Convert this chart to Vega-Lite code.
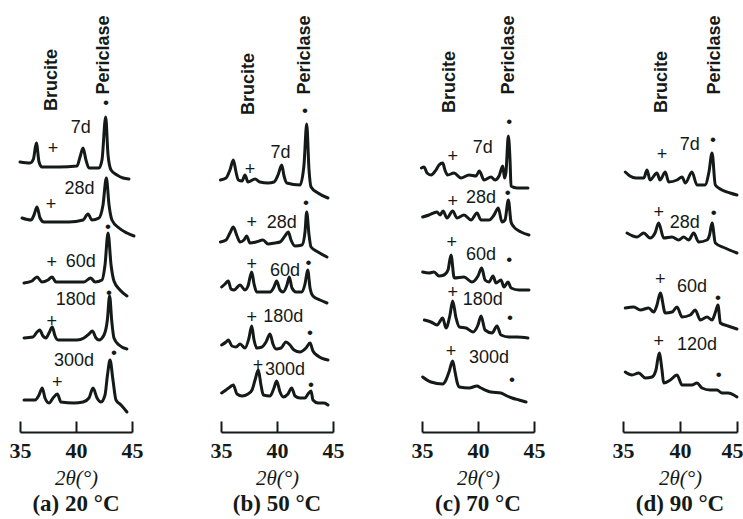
{
  "$schema": "https://vega.github.io/schema/vega-lite/v6.json",
  "padding": {"left": 9, "top": 5, "right": 0, "bottom": 0},
  "background": "white",
  "spacing": 89,
  "bounds": "flush",
  "datasets": {
    "traces": [
      {"p":"a","age":"7d","t":35.0,"i":270},{"p":"a","age":"7d","t":35.9,"i":269},{"p":"a","age":"7d","t":36.2,"i":273},{"p":"a","age":"7d","t":36.46,"i":289},{"p":"a","age":"7d","t":36.7,"i":270},{"p":"a","age":"7d","t":36.96,"i":265},{"p":"a","age":"7d","t":38.48,"i":265},{"p":"a","age":"7d","t":40.09,"i":266},{"p":"a","age":"7d","t":40.36,"i":275},{"p":"a","age":"7d","t":40.63,"i":284},{"p":"a","age":"7d","t":40.89,"i":272},{"p":"a","age":"7d","t":41.16,"i":264},{"p":"a","age":"7d","t":42.05,"i":264},{"p":"a","age":"7d","t":42.32,"i":272},{"p":"a","age":"7d","t":42.65,"i":315},{"p":"a","age":"7d","t":42.86,"i":277},{"p":"a","age":"7d","t":43.13,"i":262},{"p":"a","age":"7d","t":43.66,"i":257},{"p":"a","age":"7d","t":44.2,"i":254},{"p":"a","age":"7d","t":44.73,"i":253},
      {"p":"a","age":"28d","t":35.18,"i":214},{"p":"a","age":"28d","t":35.98,"i":212},{"p":"a","age":"28d","t":36.25,"i":217},{"p":"a","age":"28d","t":36.52,"i":225},{"p":"a","age":"28d","t":36.79,"i":214},{"p":"a","age":"28d","t":37.14,"i":210},{"p":"a","age":"28d","t":39.38,"i":210},{"p":"a","age":"28d","t":40.63,"i":212},{"p":"a","age":"28d","t":41.07,"i":218},{"p":"a","age":"28d","t":41.43,"i":212},{"p":"a","age":"28d","t":42.05,"i":214},{"p":"a","age":"28d","t":42.41,"i":227},{"p":"a","age":"28d","t":42.71,"i":254},{"p":"a","age":"28d","t":42.95,"i":227},{"p":"a","age":"28d","t":43.21,"i":212},{"p":"a","age":"28d","t":43.84,"i":204},{"p":"a","age":"28d","t":44.55,"i":199},{"p":"a","age":"28d","t":45.18,"i":196},
      {"p":"a","age":"60d","t":35.36,"i":149},{"p":"a","age":"60d","t":36.07,"i":151},{"p":"a","age":"60d","t":36.52,"i":155},{"p":"a","age":"60d","t":36.96,"i":150},{"p":"a","age":"60d","t":37.5,"i":152},{"p":"a","age":"60d","t":37.86,"i":155},{"p":"a","age":"60d","t":38.21,"i":150},{"p":"a","age":"60d","t":40.71,"i":150},{"p":"a","age":"60d","t":41.31,"i":154},{"p":"a","age":"60d","t":41.7,"i":150},{"p":"a","age":"60d","t":42.32,"i":152},{"p":"a","age":"60d","t":42.59,"i":167},{"p":"a","age":"60d","t":42.86,"i":199},{"p":"a","age":"60d","t":43.13,"i":167},{"p":"a","age":"60d","t":43.39,"i":151},{"p":"a","age":"60d","t":43.93,"i":142},{"p":"a","age":"60d","t":44.55,"i":136},
      {"p":"a","age":"180d","t":35.36,"i":94},{"p":"a","age":"180d","t":36.16,"i":95},{"p":"a","age":"180d","t":36.52,"i":100},{"p":"a","age":"180d","t":36.76,"i":102},{"p":"a","age":"180d","t":37.05,"i":96},{"p":"a","age":"180d","t":37.32,"i":94},{"p":"a","age":"180d","t":37.59,"i":99},{"p":"a","age":"180d","t":37.88,"i":105},{"p":"a","age":"180d","t":38.13,"i":96},{"p":"a","age":"180d","t":38.39,"i":92},{"p":"a","age":"180d","t":40.09,"i":92},{"p":"a","age":"180d","t":40.71,"i":94},{"p":"a","age":"180d","t":41.16,"i":98},{"p":"a","age":"180d","t":41.46,"i":101},{"p":"a","age":"180d","t":41.79,"i":94},{"p":"a","age":"180d","t":42.05,"i":92},{"p":"a","age":"180d","t":42.5,"i":97},{"p":"a","age":"180d","t":42.8,"i":112},{"p":"a","age":"180d","t":43.0,"i":136},{"p":"a","age":"180d","t":43.2,"i":110},{"p":"a","age":"180d","t":43.39,"i":94},{"p":"a","age":"180d","t":43.84,"i":87},{"p":"a","age":"180d","t":44.55,"i":83},
      {"p":"a","age":"300d","t":35.36,"i":32},{"p":"a","age":"300d","t":36.34,"i":32},{"p":"a","age":"300d","t":36.7,"i":37},{"p":"a","age":"300d","t":36.99,"i":44},{"p":"a","age":"300d","t":37.23,"i":34},{"p":"a","age":"300d","t":37.59,"i":29},{"p":"a","age":"300d","t":37.95,"i":34},{"p":"a","age":"300d","t":38.33,"i":38},{"p":"a","age":"300d","t":38.66,"i":30},{"p":"a","age":"300d","t":39.82,"i":29},{"p":"a","age":"300d","t":40.63,"i":30},{"p":"a","age":"300d","t":41.16,"i":34},{"p":"a","age":"300d","t":41.52,"i":44},{"p":"a","age":"300d","t":41.88,"i":34},{"p":"a","age":"300d","t":42.23,"i":30},{"p":"a","age":"300d","t":42.59,"i":37},{"p":"a","age":"300d","t":42.81,"i":57},{"p":"a","age":"300d","t":43.04,"i":72},{"p":"a","age":"300d","t":43.3,"i":52},{"p":"a","age":"300d","t":43.57,"i":32},{"p":"a","age":"300d","t":44.02,"i":27},{"p":"a","age":"300d","t":44.55,"i":20},

      {"p":"b","age":"7d","t":34.95,"i":252},{"p":"b","age":"7d","t":35.45,"i":254},{"p":"b","age":"7d","t":35.8,"i":262},{"p":"b","age":"7d","t":36.1,"i":272},{"p":"b","age":"7d","t":36.34,"i":260},{"p":"b","age":"7d","t":36.54,"i":252},{"p":"b","age":"7d","t":36.88,"i":251},{"p":"b","age":"7d","t":37.14,"i":257},{"p":"b","age":"7d","t":37.41,"i":250},{"p":"b","age":"7d","t":38.04,"i":253},{"p":"b","age":"7d","t":38.48,"i":250},{"p":"b","age":"7d","t":39.2,"i":249},{"p":"b","age":"7d","t":39.73,"i":250},{"p":"b","age":"7d","t":40.09,"i":257},{"p":"b","age":"7d","t":40.42,"i":267},{"p":"b","age":"7d","t":40.63,"i":256},{"p":"b","age":"7d","t":40.87,"i":249},{"p":"b","age":"7d","t":42.05,"i":247},{"p":"b","age":"7d","t":42.41,"i":267},{"p":"b","age":"7d","t":42.65,"i":308},{"p":"b","age":"7d","t":42.86,"i":262},{"p":"b","age":"7d","t":43.04,"i":245},{"p":"b","age":"7d","t":43.66,"i":239},{"p":"b","age":"7d","t":44.55,"i":234},
      {"p":"b","age":"28d","t":34.95,"i":190},{"p":"b","age":"28d","t":35.45,"i":192},{"p":"b","age":"28d","t":35.8,"i":199},{"p":"b","age":"28d","t":36.1,"i":205},{"p":"b","age":"28d","t":36.43,"i":196},{"p":"b","age":"28d","t":36.7,"i":190},{"p":"b","age":"28d","t":37.05,"i":192},{"p":"b","age":"28d","t":37.29,"i":196},{"p":"b","age":"28d","t":37.59,"i":189},{"p":"b","age":"28d","t":38.13,"i":190},{"p":"b","age":"28d","t":38.75,"i":192},{"p":"b","age":"28d","t":39.2,"i":188},{"p":"b","age":"28d","t":39.82,"i":189},{"p":"b","age":"28d","t":40.27,"i":190},{"p":"b","age":"28d","t":40.71,"i":196},{"p":"b","age":"28d","t":41.01,"i":200},{"p":"b","age":"28d","t":41.25,"i":192},{"p":"b","age":"28d","t":41.61,"i":186},{"p":"b","age":"28d","t":42.23,"i":187},{"p":"b","age":"28d","t":42.5,"i":200},{"p":"b","age":"28d","t":42.65,"i":220},{"p":"b","age":"28d","t":42.86,"i":197},{"p":"b","age":"28d","t":43.04,"i":185},{"p":"b","age":"28d","t":43.66,"i":180},{"p":"b","age":"28d","t":44.46,"i":175},
      {"p":"b","age":"60d","t":35.06,"i":145},{"p":"b","age":"60d","t":35.36,"i":148},{"p":"b","age":"60d","t":35.65,"i":151},{"p":"b","age":"60d","t":35.89,"i":143},{"p":"b","age":"60d","t":36.16,"i":142},{"p":"b","age":"60d","t":36.7,"i":147},{"p":"b","age":"60d","t":37.14,"i":142},{"p":"b","age":"60d","t":37.41,"i":146},{"p":"b","age":"60d","t":37.74,"i":160},{"p":"b","age":"60d","t":37.95,"i":148},{"p":"b","age":"60d","t":38.19,"i":140},{"p":"b","age":"60d","t":39.38,"i":140},{"p":"b","age":"60d","t":39.73,"i":145},{"p":"b","age":"60d","t":39.97,"i":151},{"p":"b","age":"60d","t":40.27,"i":142},{"p":"b","age":"60d","t":40.54,"i":140},{"p":"b","age":"60d","t":40.89,"i":147},{"p":"b","age":"60d","t":41.1,"i":155},{"p":"b","age":"60d","t":41.34,"i":144},{"p":"b","age":"60d","t":41.7,"i":140},{"p":"b","age":"60d","t":42.23,"i":140},{"p":"b","age":"60d","t":42.5,"i":148},{"p":"b","age":"60d","t":42.74,"i":162},{"p":"b","age":"60d","t":42.95,"i":144},{"p":"b","age":"60d","t":43.21,"i":136},{"p":"b","age":"60d","t":43.84,"i":132},{"p":"b","age":"60d","t":44.46,"i":129},
      {"p":"b","age":"180d","t":35.06,"i":87},{"p":"b","age":"180d","t":35.45,"i":90},{"p":"b","age":"180d","t":35.65,"i":92},{"p":"b","age":"180d","t":35.98,"i":86},{"p":"b","age":"180d","t":36.34,"i":85},{"p":"b","age":"180d","t":36.7,"i":88},{"p":"b","age":"180d","t":37.14,"i":84},{"p":"b","age":"180d","t":37.5,"i":94},{"p":"b","age":"180d","t":37.74,"i":106},{"p":"b","age":"180d","t":37.95,"i":92},{"p":"b","age":"180d","t":38.19,"i":84},{"p":"b","age":"180d","t":38.66,"i":85},{"p":"b","age":"180d","t":39.02,"i":90},{"p":"b","age":"180d","t":39.38,"i":98},{"p":"b","age":"180d","t":39.64,"i":88},{"p":"b","age":"180d","t":39.91,"i":83},{"p":"b","age":"180d","t":40.36,"i":84},{"p":"b","age":"180d","t":40.8,"i":90},{"p":"b","age":"180d","t":41.16,"i":87},{"p":"b","age":"180d","t":41.52,"i":82},{"p":"b","age":"180d","t":42.05,"i":80},{"p":"b","age":"180d","t":42.59,"i":84},{"p":"b","age":"180d","t":42.95,"i":89},{"p":"b","age":"180d","t":43.21,"i":81},{"p":"b","age":"180d","t":43.66,"i":76},{"p":"b","age":"180d","t":44.55,"i":72},
      {"p":"b","age":"300d","t":35.06,"i":39},{"p":"b","age":"300d","t":35.45,"i":42},{"p":"b","age":"300d","t":35.8,"i":45},{"p":"b","age":"300d","t":36.1,"i":47},{"p":"b","age":"300d","t":36.43,"i":38},{"p":"b","age":"300d","t":36.88,"i":36},{"p":"b","age":"300d","t":37.41,"i":38},{"p":"b","age":"300d","t":37.77,"i":42},{"p":"b","age":"300d","t":38.04,"i":52},{"p":"b","age":"300d","t":38.33,"i":62},{"p":"b","age":"300d","t":38.57,"i":47},{"p":"b","age":"300d","t":38.78,"i":37},{"p":"b","age":"300d","t":39.38,"i":36},{"p":"b","age":"300d","t":39.73,"i":44},{"p":"b","age":"300d","t":39.97,"i":51},{"p":"b","age":"300d","t":40.27,"i":40},{"p":"b","age":"300d","t":40.56,"i":35},{"p":"b","age":"300d","t":40.98,"i":38},{"p":"b","age":"300d","t":41.31,"i":44},{"p":"b","age":"300d","t":41.61,"i":36},{"p":"b","age":"300d","t":42.05,"i":34},{"p":"b","age":"300d","t":42.5,"i":34},{"p":"b","age":"300d","t":42.77,"i":38},{"p":"b","age":"300d","t":43.04,"i":41},{"p":"b","age":"300d","t":43.21,"i":32},{"p":"b","age":"300d","t":43.66,"i":29},{"p":"b","age":"300d","t":44.2,"i":29},{"p":"b","age":"300d","t":44.55,"i":27},

      {"p":"c","age":"7d","t":34.95,"i":264},{"p":"c","age":"7d","t":35.18,"i":265},{"p":"c","age":"7d","t":35.45,"i":259},{"p":"c","age":"7d","t":35.8,"i":257},{"p":"c","age":"7d","t":36.25,"i":262},{"p":"c","age":"7d","t":36.52,"i":267},{"p":"c","age":"7d","t":36.85,"i":269},{"p":"c","age":"7d","t":37.05,"i":262},{"p":"c","age":"7d","t":37.29,"i":257},{"p":"c","age":"7d","t":37.86,"i":259},{"p":"c","age":"7d","t":38.48,"i":254},{"p":"c","age":"7d","t":39.2,"i":257},{"p":"c","age":"7d","t":39.82,"i":256},{"p":"c","age":"7d","t":40.12,"i":261},{"p":"c","age":"7d","t":40.54,"i":252},{"p":"c","age":"7d","t":41.16,"i":255},{"p":"c","age":"7d","t":41.52,"i":252},{"p":"c","age":"7d","t":41.88,"i":256},{"p":"c","age":"7d","t":42.21,"i":266},{"p":"c","age":"7d","t":42.37,"i":254},{"p":"c","age":"7d","t":42.5,"i":260},{"p":"c","age":"7d","t":42.71,"i":296},{"p":"c","age":"7d","t":42.86,"i":272},{"p":"c","age":"7d","t":42.95,"i":246},{"p":"c","age":"7d","t":43.48,"i":244},{"p":"c","age":"7d","t":44.46,"i":244},
      {"p":"c","age":"28d","t":35.06,"i":215},{"p":"c","age":"28d","t":35.63,"i":217},{"p":"c","age":"28d","t":36.34,"i":220},{"p":"c","age":"28d","t":36.61,"i":217},{"p":"c","age":"28d","t":36.88,"i":221},{"p":"c","age":"28d","t":37.23,"i":214},{"p":"c","age":"28d","t":37.74,"i":221},{"p":"c","age":"28d","t":38.13,"i":214},{"p":"c","age":"28d","t":38.75,"i":217},{"p":"c","age":"28d","t":39.38,"i":212},{"p":"c","age":"28d","t":39.91,"i":219},{"p":"c","age":"28d","t":40.27,"i":212},{"p":"c","age":"28d","t":40.98,"i":212},{"p":"c","age":"28d","t":41.43,"i":217},{"p":"c","age":"28d","t":41.81,"i":224},{"p":"c","age":"28d","t":42.14,"i":210},{"p":"c","age":"28d","t":42.41,"i":212},{"p":"c","age":"28d","t":42.71,"i":232},{"p":"c","age":"28d","t":42.95,"i":210},{"p":"c","age":"28d","t":43.21,"i":205},{"p":"c","age":"28d","t":43.84,"i":200},{"p":"c","age":"28d","t":44.55,"i":197},
      {"p":"c","age":"60d","t":35.06,"i":160},{"p":"c","age":"60d","t":35.63,"i":159},{"p":"c","age":"60d","t":36.07,"i":160},{"p":"c","age":"60d","t":36.52,"i":156},{"p":"c","age":"60d","t":36.96,"i":157},{"p":"c","age":"60d","t":37.32,"i":162},{"p":"c","age":"60d","t":37.59,"i":177},{"p":"c","age":"60d","t":37.88,"i":154},{"p":"c","age":"60d","t":38.75,"i":155},{"p":"c","age":"60d","t":39.46,"i":150},{"p":"c","age":"60d","t":40.0,"i":156},{"p":"c","age":"60d","t":40.33,"i":164},{"p":"c","age":"60d","t":40.63,"i":152},{"p":"c","age":"60d","t":40.98,"i":150},{"p":"c","age":"60d","t":41.34,"i":156},{"p":"c","age":"60d","t":41.61,"i":149},{"p":"c","age":"60d","t":42.05,"i":152},{"p":"c","age":"60d","t":42.32,"i":145},{"p":"c","age":"60d","t":42.68,"i":150},{"p":"c","age":"60d","t":42.95,"i":144},{"p":"c","age":"60d","t":43.66,"i":142},{"p":"c","age":"60d","t":44.55,"i":142},
      {"p":"c","age":"180d","t":35.21,"i":112},{"p":"c","age":"180d","t":35.8,"i":110},{"p":"c","age":"180d","t":36.34,"i":107},{"p":"c","age":"180d","t":36.85,"i":114},{"p":"c","age":"180d","t":37.14,"i":104},{"p":"c","age":"180d","t":37.5,"i":117},{"p":"c","age":"180d","t":37.74,"i":131},{"p":"c","age":"180d","t":38.04,"i":114},{"p":"c","age":"180d","t":38.33,"i":105},{"p":"c","age":"180d","t":38.93,"i":104},{"p":"c","age":"180d","t":39.55,"i":100},{"p":"c","age":"180d","t":40.0,"i":107},{"p":"c","age":"180d","t":40.27,"i":116},{"p":"c","age":"180d","t":40.63,"i":102},{"p":"c","age":"180d","t":41.25,"i":99},{"p":"c","age":"180d","t":41.7,"i":106},{"p":"c","age":"180d","t":42.05,"i":97},{"p":"c","age":"180d","t":42.77,"i":95},{"p":"c","age":"180d","t":43.48,"i":95},{"p":"c","age":"180d","t":44.46,"i":94},
      {"p":"c","age":"300d","t":35.06,"i":55},{"p":"c","age":"300d","t":35.8,"i":50},{"p":"c","age":"300d","t":36.85,"i":48},{"p":"c","age":"300d","t":37.14,"i":52},{"p":"c","age":"300d","t":37.41,"i":60},{"p":"c","age":"300d","t":37.74,"i":71},{"p":"c","age":"300d","t":37.95,"i":60},{"p":"c","age":"300d","t":38.13,"i":50},{"p":"c","age":"300d","t":38.33,"i":45},{"p":"c","age":"300d","t":39.2,"i":44},{"p":"c","age":"300d","t":39.91,"i":46},{"p":"c","age":"300d","t":40.27,"i":44},{"p":"c","age":"300d","t":41.16,"i":40},{"p":"c","age":"300d","t":42.05,"i":39},{"p":"c","age":"300d","t":42.59,"i":36},{"p":"c","age":"300d","t":43.04,"i":34},{"p":"c","age":"300d","t":43.66,"i":32},{"p":"c","age":"300d","t":44.29,"i":30},

      {"p":"d","age":"7d","t":35.2,"i":260},{"p":"d","age":"7d","t":35.61,"i":256},{"p":"d","age":"7d","t":36.14,"i":254},{"p":"d","age":"7d","t":36.82,"i":254},{"p":"d","age":"7d","t":37.11,"i":262},{"p":"d","age":"7d","t":37.37,"i":252},{"p":"d","age":"7d","t":37.98,"i":259},{"p":"d","age":"7d","t":38.25,"i":252},{"p":"d","age":"7d","t":38.71,"i":260},{"p":"d","age":"7d","t":39.01,"i":250},{"p":"d","age":"7d","t":39.74,"i":252},{"p":"d","age":"7d","t":40.18,"i":255},{"p":"d","age":"7d","t":40.47,"i":249},{"p":"d","age":"7d","t":41.05,"i":260},{"p":"d","age":"7d","t":41.49,"i":247},{"p":"d","age":"7d","t":42.19,"i":247},{"p":"d","age":"7d","t":42.54,"i":260},{"p":"d","age":"7d","t":42.81,"i":279},{"p":"d","age":"7d","t":43.1,"i":247},{"p":"d","age":"7d","t":43.68,"i":242},{"p":"d","age":"7d","t":44.39,"i":239},{"p":"d","age":"7d","t":45.0,"i":237},
      {"p":"d","age":"28d","t":35.35,"i":199},{"p":"d","age":"28d","t":36.23,"i":195},{"p":"d","age":"28d","t":36.82,"i":199},{"p":"d","age":"28d","t":37.37,"i":194},{"p":"d","age":"28d","t":37.81,"i":199},{"p":"d","age":"28d","t":38.13,"i":209},{"p":"d","age":"28d","t":38.57,"i":194},{"p":"d","age":"28d","t":39.3,"i":195},{"p":"d","age":"28d","t":39.89,"i":192},{"p":"d","age":"28d","t":40.32,"i":195},{"p":"d","age":"28d","t":40.76,"i":192},{"p":"d","age":"28d","t":41.2,"i":199},{"p":"d","age":"28d","t":41.64,"i":190},{"p":"d","age":"28d","t":42.37,"i":192},{"p":"d","age":"28d","t":42.59,"i":197},{"p":"d","age":"28d","t":42.81,"i":209},{"p":"d","age":"28d","t":43.1,"i":189},{"p":"d","age":"28d","t":43.95,"i":184},{"p":"d","age":"28d","t":45.0,"i":179},
      {"p":"d","age":"60d","t":35.2,"i":124},{"p":"d","age":"60d","t":35.94,"i":125},{"p":"d","age":"60d","t":36.52,"i":122},{"p":"d","age":"60d","t":37.25,"i":124},{"p":"d","age":"60d","t":37.69,"i":120},{"p":"d","age":"60d","t":37.98,"i":127},{"p":"d","age":"60d","t":38.27,"i":139},{"p":"d","age":"60d","t":38.71,"i":119},{"p":"d","age":"60d","t":39.3,"i":120},{"p":"d","age":"60d","t":39.74,"i":125},{"p":"d","age":"60d","t":40.18,"i":115},{"p":"d","age":"60d","t":40.9,"i":117},{"p":"d","age":"60d","t":41.34,"i":122},{"p":"d","age":"60d","t":41.78,"i":112},{"p":"d","age":"60d","t":42.37,"i":115},{"p":"d","age":"60d","t":42.81,"i":112},{"p":"d","age":"60d","t":43.11,"i":120},{"p":"d","age":"60d","t":43.33,"i":127},{"p":"d","age":"60d","t":43.54,"i":109},{"p":"d","age":"60d","t":44.21,"i":106},{"p":"d","age":"60d","t":45.0,"i":103},
      {"p":"d","age":"120d","t":35.2,"i":60},{"p":"d","age":"120d","t":35.79,"i":57},{"p":"d","age":"120d","t":36.38,"i":59},{"p":"d","age":"120d","t":36.96,"i":54},{"p":"d","age":"120d","t":37.54,"i":55},{"p":"d","age":"120d","t":37.89,"i":62},{"p":"d","age":"120d","t":38.18,"i":79},{"p":"d","age":"120d","t":38.42,"i":62},{"p":"d","age":"120d","t":38.57,"i":49},{"p":"d","age":"120d","t":39.15,"i":52},{"p":"d","age":"120d","t":39.74,"i":57},{"p":"d","age":"120d","t":40.18,"i":47},{"p":"d","age":"120d","t":41.05,"i":47},{"p":"d","age":"120d","t":41.49,"i":49},{"p":"d","age":"120d","t":41.93,"i":44},{"p":"d","age":"120d","t":42.63,"i":42},{"p":"d","age":"120d","t":43.25,"i":42},{"p":"d","age":"120d","t":43.68,"i":39},{"p":"d","age":"120d","t":44.21,"i":39},{"p":"d","age":"120d","t":45.0,"i":35}
    ],
    "labels": [
      {"p":"a","kind":"phase","text":"Brucite","t":37.9,"i":352},{"p":"a","kind":"phase","text":"Periclase","t":42.5,"i":377},
      {"p":"a","kind":"age","text":"7d","t":40.42,"i":304},{"p":"a","kind":"age","text":"28d","t":40.31,"i":243},{"p":"a","kind":"age","text":"60d","t":40.42,"i":170},{"p":"a","kind":"age","text":"180d","t":39.97,"i":132},{"p":"a","kind":"age","text":"300d","t":39.82,"i":71},
      {"p":"a","kind":"brucite","text":"+","t":37.95,"i":283},{"p":"a","kind":"brucite","text":"+","t":37.77,"i":227},{"p":"a","kind":"brucite","text":"+","t":37.83,"i":169},{"p":"a","kind":"brucite","text":"+","t":37.83,"i":110},{"p":"a","kind":"brucite","text":"+","t":38.33,"i":49},
      {"p":"a","kind":"periclase","text":"•","t":42.68,"i":329},{"p":"a","kind":"periclase","text":"•","t":42.86,"i":205},{"p":"a","kind":"periclase","text":"•","t":42.95,"i":139},{"p":"a","kind":"periclase","text":"•","t":43.39,"i":79},

      {"p":"b","kind":"phase","text":"Brucite","t":37.54,"i":348},{"p":"b","kind":"phase","text":"Periclase","t":42.46,"i":377},
      {"p":"b","kind":"age","text":"7d","t":40.31,"i":279},{"p":"b","kind":"age","text":"28d","t":40.42,"i":209},{"p":"b","kind":"age","text":"60d","t":40.71,"i":161},{"p":"b","kind":"age","text":"180d","t":40.56,"i":115},{"p":"b","kind":"age","text":"300d","t":40.71,"i":62},
      {"p":"b","kind":"brucite","text":"+","t":37.59,"i":262},{"p":"b","kind":"brucite","text":"+","t":37.74,"i":209},{"p":"b","kind":"brucite","text":"+","t":37.74,"i":167},{"p":"b","kind":"brucite","text":"+","t":37.74,"i":114},{"p":"b","kind":"brucite","text":"+","t":38.3,"i":66},
      {"p":"b","kind":"periclase","text":"•","t":42.5,"i":321},{"p":"b","kind":"periclase","text":"•","t":42.59,"i":229},{"p":"b","kind":"periclase","text":"•","t":42.8,"i":169},{"p":"b","kind":"periclase","text":"•","t":42.95,"i":99},{"p":"b","kind":"periclase","text":"•","t":43.04,"i":47},

      {"p":"c","kind":"phase","text":"Brucite","t":37.54,"i":350},{"p":"c","kind":"phase","text":"Periclase","t":42.81,"i":377},
      {"p":"c","kind":"age","text":"7d","t":40.42,"i":284},{"p":"c","kind":"age","text":"28d","t":40.27,"i":234},{"p":"c","kind":"age","text":"60d","t":40.27,"i":177},{"p":"c","kind":"age","text":"180d","t":40.42,"i":132},{"p":"c","kind":"age","text":"300d","t":40.98,"i":74},
      {"p":"c","kind":"brucite","text":"+","t":37.74,"i":275},{"p":"c","kind":"brucite","text":"+","t":37.74,"i":230},{"p":"c","kind":"brucite","text":"+","t":37.65,"i":189},{"p":"c","kind":"brucite","text":"+","t":37.74,"i":139},{"p":"c","kind":"brucite","text":"+","t":37.59,"i":80},
      {"p":"c","kind":"periclase","text":"•","t":42.79,"i":310},{"p":"c","kind":"periclase","text":"•","t":42.65,"i":239},{"p":"c","kind":"periclase","text":"•","t":42.79,"i":172},{"p":"c","kind":"periclase","text":"•","t":42.86,"i":114},{"p":"c","kind":"periclase","text":"•","t":43.04,"i":52},

      {"p":"d","kind":"phase","text":"Brucite","t":38.46,"i":350},{"p":"d","kind":"phase","text":"Periclase","t":43.03,"i":377},
      {"p":"d","kind":"age","text":"7d","t":40.85,"i":287},{"p":"d","kind":"age","text":"28d","t":40.41,"i":209},{"p":"d","kind":"age","text":"60d","t":41.05,"i":145},{"p":"d","kind":"age","text":"120d","t":41.49,"i":87},
      {"p":"d","kind":"brucite","text":"+","t":38.42,"i":277},{"p":"d","kind":"brucite","text":"+","t":38.13,"i":219},{"p":"d","kind":"brucite","text":"+","t":38.27,"i":152},{"p":"d","kind":"brucite","text":"+","t":38.13,"i":90},
      {"p":"d","kind":"periclase","text":"•","t":42.89,"i":292},{"p":"d","kind":"periclase","text":"•","t":42.96,"i":219},{"p":"d","kind":"periclase","text":"•","t":43.33,"i":134},{"p":"d","kind":"periclase","text":"•","t":43.39,"i":57}
    ]
  },
  "hconcat": [
    {
      "width": 112, "height": 427,
      "title": "(a) 20 °C",
      "encoding": {
        "x": {"field": "t", "type": "quantitative", "scale": {"domain": [35, 45], "nice": false, "zero": false}, "axis": {"values": [35, 40, 45], "title": "2θ(°)"}},
        "y": {"field": "i", "type": "quantitative", "scale": {"domain": [0, 427], "nice": false}, "axis": null}
      },
      "layer": [
        {"data": {"name": "traces"}, "transform": [{"filter": "datum.p === 'a'"}], "mark": {"type": "line", "color": "#141a17", "strokeWidth": 3, "strokeJoin": "round", "strokeCap": "round", "interpolate": "monotone"}, "encoding": {"detail": {"field": "age"}}},
        {"data": {"name": "labels"}, "transform": [{"filter": "datum.p === 'a' && datum.kind === 'age'"}], "mark": {"type": "text", "font": "Liberation Sans", "fontSize": 18, "color": "#141a17"}, "encoding": {"text": {"field": "text"}}},
        {"data": {"name": "labels"}, "transform": [{"filter": "datum.p === 'a' && datum.kind === 'brucite'"}], "mark": {"type": "text", "font": "Liberation Sans", "fontSize": 18, "color": "#141a17"}, "encoding": {"text": {"field": "text"}}},
        {"data": {"name": "labels"}, "transform": [{"filter": "datum.p === 'a' && datum.kind === 'periclase'"}], "mark": {"type": "text", "font": "Liberation Sans", "fontSize": 17, "color": "#141a17"}, "encoding": {"text": {"field": "text"}}},
        {"data": {"name": "labels"}, "transform": [{"filter": "datum.p === 'a' && datum.kind === 'phase'"}], "mark": {"type": "text", "font": "Liberation Sans", "fontWeight": "bold", "fontSize": 18, "angle": 270, "color": "#141a17"}, "encoding": {"text": {"field": "text"}}}
      ]
    },
    {
      "width": 112, "height": 427,
      "title": "(b) 50 °C",
      "encoding": {
        "x": {"field": "t", "type": "quantitative", "scale": {"domain": [35, 45], "nice": false, "zero": false}, "axis": {"values": [35, 40, 45], "title": "2θ(°)"}},
        "y": {"field": "i", "type": "quantitative", "scale": {"domain": [0, 427], "nice": false}, "axis": null}
      },
      "layer": [
        {"data": {"name": "traces"}, "transform": [{"filter": "datum.p === 'b'"}], "mark": {"type": "line", "color": "#141a17", "strokeWidth": 3, "strokeJoin": "round", "strokeCap": "round", "interpolate": "monotone"}, "encoding": {"detail": {"field": "age"}}},
        {"data": {"name": "labels"}, "transform": [{"filter": "datum.p === 'b' && datum.kind === 'age'"}], "mark": {"type": "text", "font": "Liberation Sans", "fontSize": 18, "color": "#141a17"}, "encoding": {"text": {"field": "text"}}},
        {"data": {"name": "labels"}, "transform": [{"filter": "datum.p === 'b' && datum.kind === 'brucite'"}], "mark": {"type": "text", "font": "Liberation Sans", "fontSize": 18, "color": "#141a17"}, "encoding": {"text": {"field": "text"}}},
        {"data": {"name": "labels"}, "transform": [{"filter": "datum.p === 'b' && datum.kind === 'periclase'"}], "mark": {"type": "text", "font": "Liberation Sans", "fontSize": 17, "color": "#141a17"}, "encoding": {"text": {"field": "text"}}},
        {"data": {"name": "labels"}, "transform": [{"filter": "datum.p === 'b' && datum.kind === 'phase'"}], "mark": {"type": "text", "font": "Liberation Sans", "fontWeight": "bold", "fontSize": 18, "angle": 270, "color": "#141a17"}, "encoding": {"text": {"field": "text"}}}
      ]
    },
    {
      "width": 112, "height": 427,
      "title": "(c) 70 °C",
      "encoding": {
        "x": {"field": "t", "type": "quantitative", "scale": {"domain": [35, 45], "nice": false, "zero": false}, "axis": {"values": [35, 40, 45], "title": "2θ(°)"}},
        "y": {"field": "i", "type": "quantitative", "scale": {"domain": [0, 427], "nice": false}, "axis": null}
      },
      "layer": [
        {"data": {"name": "traces"}, "transform": [{"filter": "datum.p === 'c'"}], "mark": {"type": "line", "color": "#141a17", "strokeWidth": 3, "strokeJoin": "round", "strokeCap": "round", "interpolate": "monotone"}, "encoding": {"detail": {"field": "age"}}},
        {"data": {"name": "labels"}, "transform": [{"filter": "datum.p === 'c' && datum.kind === 'age'"}], "mark": {"type": "text", "font": "Liberation Sans", "fontSize": 18, "color": "#141a17"}, "encoding": {"text": {"field": "text"}}},
        {"data": {"name": "labels"}, "transform": [{"filter": "datum.p === 'c' && datum.kind === 'brucite'"}], "mark": {"type": "text", "font": "Liberation Sans", "fontSize": 18, "color": "#141a17"}, "encoding": {"text": {"field": "text"}}},
        {"data": {"name": "labels"}, "transform": [{"filter": "datum.p === 'c' && datum.kind === 'periclase'"}], "mark": {"type": "text", "font": "Liberation Sans", "fontSize": 17, "color": "#141a17"}, "encoding": {"text": {"field": "text"}}},
        {"data": {"name": "labels"}, "transform": [{"filter": "datum.p === 'c' && datum.kind === 'phase'"}], "mark": {"type": "text", "font": "Liberation Sans", "fontWeight": "bold", "fontSize": 18, "angle": 270, "color": "#141a17"}, "encoding": {"text": {"field": "text"}}}
      ]
    },
    {
      "width": 114, "height": 427,
      "title": "(d) 90 °C",
      "encoding": {
        "x": {"field": "t", "type": "quantitative", "scale": {"domain": [35, 45], "nice": false, "zero": false}, "axis": {"values": [35, 40, 45], "title": "2θ(°)",
          "labelAlign": {"condition": {"test": "datum.value === 45", "value": "right"}, "value": "center"},
          "labelOffset": {"condition": {"test": "datum.value === 45", "value": 6}, "value": 0}}},
        "y": {"field": "i", "type": "quantitative", "scale": {"domain": [0, 427], "nice": false}, "axis": null}
      },
      "layer": [
        {"data": {"name": "traces"}, "transform": [{"filter": "datum.p === 'd'"}], "mark": {"type": "line", "color": "#141a17", "strokeWidth": 3, "strokeJoin": "round", "strokeCap": "round", "interpolate": "monotone"}, "encoding": {"detail": {"field": "age"}}},
        {"data": {"name": "labels"}, "transform": [{"filter": "datum.p === 'd' && datum.kind === 'age'"}], "mark": {"type": "text", "font": "Liberation Sans", "fontSize": 18, "color": "#141a17"}, "encoding": {"text": {"field": "text"}}},
        {"data": {"name": "labels"}, "transform": [{"filter": "datum.p === 'd' && datum.kind === 'brucite'"}], "mark": {"type": "text", "font": "Liberation Sans", "fontSize": 18, "color": "#141a17"}, "encoding": {"text": {"field": "text"}}},
        {"data": {"name": "labels"}, "transform": [{"filter": "datum.p === 'd' && datum.kind === 'periclase'"}], "mark": {"type": "text", "font": "Liberation Sans", "fontSize": 17, "color": "#141a17"}, "encoding": {"text": {"field": "text"}}},
        {"data": {"name": "labels"}, "transform": [{"filter": "datum.p === 'd' && datum.kind === 'phase'"}], "mark": {"type": "text", "font": "Liberation Sans", "fontWeight": "bold", "fontSize": 18, "angle": 270, "color": "#141a17"}, "encoding": {"text": {"field": "text"}}}
      ]
    }
  ],
  "config": {
    "view": {"stroke": null},
    "axis": {
      "grid": false,
      "domainColor": "#141a17", "domainWidth": 2,
      "tickColor": "#141a17", "tickWidth": 2, "tickSize": -11,
      "labelFont": "Liberation Serif", "labelFontWeight": "bold", "labelFontSize": 22, "labelColor": "#141a17", "labelPadding": 19, "labelFlush": false,
      "titleFont": "Liberation Serif", "titleFontStyle": "italic", "titleFontWeight": "normal", "titleFontSize": 21, "titleColor": "#141a17", "titlePadding": 6
    },
    "title": {"orient": "bottom", "anchor": "middle", "font": "Liberation Serif", "fontWeight": "bold", "fontSize": 23, "color": "#141a17", "offset": 5}
  }
}
